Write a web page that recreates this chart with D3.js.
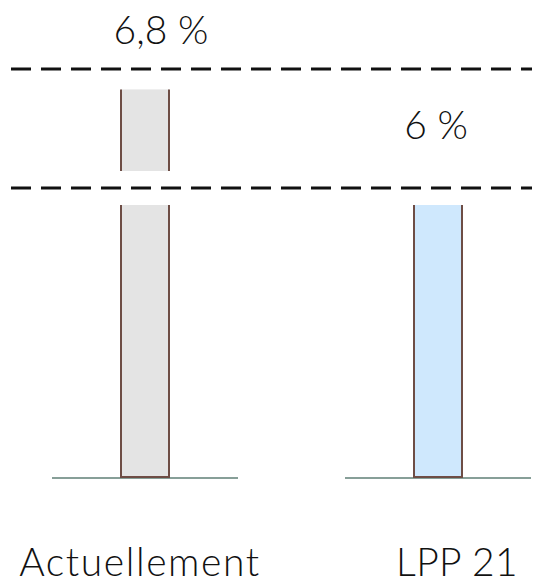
<!DOCTYPE html>
<html>
<head>
<meta charset="utf-8">
<script src="https://cdn.jsdelivr.net/npm/d3@7"></script>
<style>
  html, body { margin: 0; padding: 0; background: #fff; }
  svg { display: block; }
  text { font-family: "Source Sans Pro", Lato, "Open Sans", sans-serif; font-weight: 300; fill: #111; }
</style>
</head>
<body>
<svg id="chart" width="543" height="585"></svg>
<script>
// Conversion rate (taux de conversion), current vs LPP 21 reform
const categories = ["Actuellement", "LPP 21"];
const values = [6.8, 6.0];
const valueLabels = ["6,8 %", "6 %"];
const fills = ["#e4e4e4", "#cfe8fd"];
// values where the axis is broken, and the upper guide line
const breakValue = 6.0;
const guideValue = 7.0;

const svg = d3.select("#chart");

const x = d3.scalePoint().domain(categories).range([145, 438]);
const barW = 48;
const baseHalf = 93;

// broken axis: lower segment 0..6, upper segment 6..7 magnified
const yLow = d3.scaleLinear().domain([0, breakValue]).range([478, 205]);
const yHigh = d3.scaleLinear().domain([breakValue, guideValue]).range([171, 69]);
const gapMid = (yLow(breakValue) + yHigh(breakValue)) / 2;

const stroke = "#6e4d45";

// dashed guides: top of upper segment and axis break
svg.selectAll("line.guide")
  .data([yHigh(guideValue), gapMid])
  .join("line")
  .attr("class", "guide")
  .attr("x1", 11).attr("x2", 532)
  .attr("y1", d => d).attr("y2", d => d)
  .attr("stroke", "#111")
  .attr("stroke-width", 3)
  .attr("stroke-dasharray", "20 10");

const g = svg.selectAll("g.bar")
  .data(categories.map((c, i) => ({ c, v: values[i], label: valueLabels[i], fill: fills[i] })))
  .join("g")
  .attr("class", "bar");

// baseline per category
g.append("line")
  .attr("x1", d => x(d.c) - baseHalf).attr("x2", d => x(d.c) + baseHalf)
  .attr("y1", yLow(0)).attr("y2", yLow(0))
  .attr("stroke", "#5f7f76").attr("stroke-width", 1.6);

// bar segments: lower part and (when above break) upper part
g.each(function(d) {
  const sel = d3.select(this);
  const segs = [[yLow(Math.min(d.v, breakValue)), yLow(0)]];
  if (d.v > breakValue) segs.push([yHigh(d.v), yHigh(breakValue)]);
  segs.forEach(([top, bottom]) => {
    sel.append("rect")
      .attr("x", x(d.c) - barW / 2).attr("width", barW)
      .attr("y", top).attr("height", bottom - top)
      .attr("fill", d.fill);
    [x(d.c) - barW / 2, x(d.c) + barW / 2].forEach(xx => {
      sel.append("line")
        .attr("x1", xx).attr("x2", xx)
        .attr("y1", top).attr("y2", bottom)
        .attr("stroke", stroke).attr("stroke-width", 2);
    });
  });
  sel.append("line")
    .attr("x1", x(d.c) - barW / 2 - 1).attr("x2", x(d.c) + barW / 2 + 1)
    .attr("y1", yLow(0) - 1).attr("y2", yLow(0) - 1)
    .attr("stroke", stroke).attr("stroke-width", 2);
});

// value labels
g.append("text")
  .attr("x", (d, i) => i === 0 ? x(d.c) + 16 : x(d.c) - 2)
  .attr("y", (d, i) => i === 0 ? 44 : 139)
  .attr("text-anchor", "middle")
  .attr("font-size", 39)
  .text(d => d.label);

// category labels
g.append("text")
  .attr("x", (d, i) => i === 0 ? x(d.c) - 5 : x(d.c) + 19)
  .attr("y", 576)
  .attr("text-anchor", "middle")
  .attr("font-size", 39)
  .attr("letter-spacing", (d, i) => i === 0 ? 1.6 : 0.4)
  .text(d => d.c);
</script>
</body>
</html>
